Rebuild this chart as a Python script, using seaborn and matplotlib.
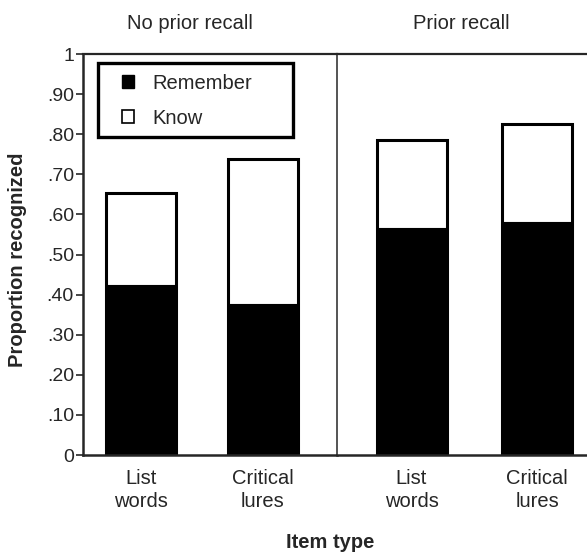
import matplotlib
matplotlib.use("Agg")
import matplotlib.pyplot as plt
from matplotlib.patches import Patch, Rectangle
import seaborn as sns
import pandas as pd

# Recognition data: proportion of items recognized, split into
# "Remember" and "Know" judgements
conditions = ["No prior recall", "Prior recall"]
item_types = ["List\nwords", "Critical\nlures"]
remember = {"No prior recall": [0.425, 0.377], "Prior recall": [0.567, 0.582]}
know = {"No prior recall": [0.229, 0.360], "Prior recall": [0.218, 0.243]}
y_ticks = [0, 0.1, 0.2, 0.3, 0.4, 0.5, 0.6, 0.7, 0.8, 0.9, 1.0]
y_tick_labels = ["0", ".10", ".20", ".30", ".40", ".50", ".60", ".70", ".80", ".90", "1"]

rows = []
for cond in conditions:
    for item, r, k in zip(item_types, remember[cond], know[cond]):
        rows.append({"condition": cond, "item": item, "remember": r,
                     "know": k, "total": r + k})
df = pd.DataFrame(rows)

sns.set_style("ticks")
plt.rcParams["font.family"] = ["Liberation Sans", "DejaVu Sans"]

FS = 14.5
W, H = 587, 554
fig = plt.figure(figsize=(W / 100, H / 100), dpi=100)

def px_axes(x0, x1, y_top, y_bot):
    return fig.add_axes([x0 / W, 1 - y_bot / H, (x1 - x0) / W, (y_bot - y_top) / H])

ax_left = px_axes(83, 337, 54, 455)
ax_right = px_axes(337, 587, 54, 455)

panel_setup = {
    "No prior recall": (ax_left, 0.574, (-0.475, 1.607), 0.42),
    "Prior recall": (ax_right, 0.558, (-0.594, 1.398), 0.496),
}

for cond in conditions:
    ax, bw, xlim, title_x = panel_setup[cond]
    sub = df[df["condition"] == cond]
    # full stack (Remember + Know) as an outlined white bar
    sns.barplot(data=sub, x="item", y="total", order=item_types, ax=ax,
                color="white", edgecolor="black", linewidth=2.2, width=bw,
                saturation=1, errorbar=None)
    # Remember portion in solid black
    sns.barplot(data=sub, x="item", y="remember", order=item_types, ax=ax,
                color="black", edgecolor="black", linewidth=0.8, width=bw,
                saturation=1, errorbar=None)
    ax.set_xlim(*xlim)
    ax.set_ylim(0, 1)
    ax.set_xlabel("")
    ax.set_ylabel("")
    ax.tick_params(axis="x", length=0, labelsize=FS, pad=10)
    ax.spines["right"].set_visible(False)
    ax.spines["top"].set_visible(True)
    ax.spines["top"].set_linewidth(1.6)
    ax.spines["bottom"].set_linewidth(1.8)
    ax.set_title(cond, fontsize=FS, x=title_x, pad=18)
    for lbl in ax.get_xticklabels():
        lbl.set_linespacing(1.28)

ax_left.spines["left"].set_linewidth(1.8)
ax_left.set_yticks(y_ticks)
ax_left.set_yticklabels(y_tick_labels)
ax_left.tick_params(axis="y", length=5, width=1.2, labelsize=14, pad=1.5)

ax_right.spines["left"].set_linewidth(1.1)
ax_right.set_yticks([])

fig.text(18 / W, 1 - 260 / H, "Proportion recognized", ha="center", va="center",
         rotation=90, fontsize=FS, fontweight="bold")
fig.text(330 / W, 1 - 543 / H, "Item type", ha="center", va="center",
         fontsize=FS, fontweight="bold")

# legend box
fig.patches.append(Rectangle((98 / W, 1 - 137 / H), (293 - 98) / W, (137 - 63) / H,
                             transform=fig.transFigure, facecolor="white",
                             edgecolor="black", linewidth=2.4, zorder=5))
handles = [Patch(facecolor="black", edgecolor="black", label="Remember"),
           Patch(facecolor="white", edgecolor="black", linewidth=1.2, label="Know")]
leg = fig.legend(handles=handles, loc="upper left",
                 bbox_to_anchor=(122 / W, 1 - 74 / H),
                 bbox_transform=fig.transFigure, frameon=False,
                 fontsize=FS, handlelength=0.62, handleheight=0.62,
                 handletextpad=0.9, borderpad=0, labelspacing=0.78,
                 borderaxespad=0)
leg.set_zorder(6)

fig.savefig("out.png", dpi=100)
